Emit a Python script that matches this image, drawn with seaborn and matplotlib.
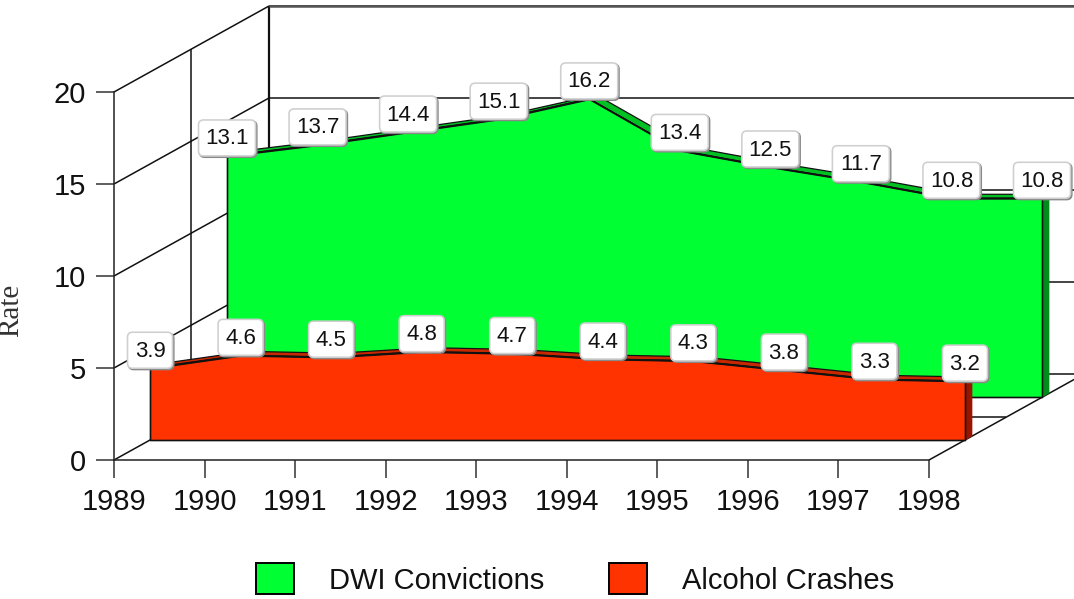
import matplotlib
matplotlib.use("Agg")
import matplotlib.pyplot as plt
import seaborn as sns
import pandas as pd
from matplotlib.patches import FancyBboxPatch, Patch
from matplotlib.transforms import Affine2D, IdentityTransform

years = ["1989", "1990", "1991", "1992", "1993", "1994", "1995", "1996", "1997", "1998"]
dwi_convictions = [13.1, 13.7, 14.4, 15.1, 16.2, 13.4, 12.5, 11.7, 10.8, 10.8]
alcohol_crashes = [3.9, 4.6, 4.5, 4.8, 4.7, 4.4, 4.3, 3.8, 3.3, 3.2]
y_ticks = [0, 5, 10, 15, 20]

GREEN, GREEN_TOP, GREEN_SIDE = "#00FF33", "#00C024", "#008C1A"
RED, RED_TOP, RED_SIDE = "#FF3300", "#C72800", "#991500"
LINE = "#111111"

W, H = 1074, 599
sns.set_theme(style="white")
plt.rcParams["font.family"] = ["Liberation Sans", "DejaVu Sans"]

fig = plt.figure(figsize=(W / 100, H / 100), dpi=100, facecolor="white")
ax = fig.add_axes([114 / W, (H - 460) / H, (929 - 114) / W, 368 / H], facecolor="none")
n = len(years)
xs = list(range(n))
ax.set_xlim(0, n - 1)
ax.set_ylim(0, 20)


def shift(dx, dy):
    return ax.transData + Affine2D().translate(dx, dy)


# Walls and floor of the pseudo-3D box
BACK = (155, 86)
MID = (77, 43)
wall = dict(color=LINE, lw=1.1, clip_on=False, zorder=1, solid_capstyle="butt")
back_t, mid_t = shift(*BACK), shift(*MID)
base_t = ax.transData
for v in y_ticks:
    p0 = base_t.transform((0, v))
    ax.plot([p0[0], p0[0] + BACK[0]], [p0[1], p0[1] + BACK[1]], transform=IdentityTransform(), **wall)
    ax.plot([0, n - 1], [v, v], transform=back_t, **wall)
ax.plot([0, 0], [0, 20], transform=mid_t, **wall)
ax.plot([0, 0], [0, 20], transform=back_t, **{**wall, "lw": 1.6})
ax.plot([0, n - 1], [20, 20], transform=back_t, **{**wall, "lw": 1.8, "color": "#555555"})
ax.plot([0, n - 1], [0, 0], transform=mid_t, **wall)
p1 = base_t.transform((n - 1, 0))
ax.plot([p1[0], p1[0] + BACK[0]], [p1[1], p1[1] + BACK[1]], transform=IdentityTransform(), **wall)


def ribbon(values, offset, face, top, side, z):
    dx, dy = offset
    front = shift(dx, dy)
    rear = shift(dx + 7, dy + 4)
    # top surface of the area
    p_front = [front.transform((x, v)) for x, v in zip(xs, values)]
    p_rear = [rear.transform((x, v)) for x, v in zip(xs, values)]
    poly = p_front + p_rear[::-1]
    ax.fill([p[0] for p in poly], [p[1] for p in poly], facecolor=top, edgecolor=LINE, lw=0.9,
            transform=IdentityTransform(), clip_on=False, zorder=z)
    # right-hand side of the area
    e = front.transform((xs[-1], values[-1]))
    b = front.transform((xs[-1], 0))
    sx = [e[0], e[0] + 7, b[0] + 7, b[0]]
    sy = [e[1], e[1] + 4, b[1] + 4, b[1]]
    ax.fill(sx, sy, facecolor=side, edgecolor=side, lw=0.5, transform=IdentityTransform(),
            clip_on=False, zorder=z)
    # front face
    ax.fill_between(xs, values, 0, facecolor=face, edgecolor=LINE, lw=1.2, transform=front,
                    clip_on=False, zorder=z + 0.1)
    df = pd.DataFrame({"i": xs, "v": values})
    sns.lineplot(data=df, x="i", y="v", ax=ax, color=LINE, lw=1.2, transform=front,
                 clip_on=False, zorder=z + 0.2, errorbar=None, legend=False)


GREEN_OFFSET = (113, 63)
RED_OFFSET = (36, 20)
ribbon(dwi_convictions, GREEN_OFFSET, GREEN, GREEN_TOP, GREEN_SIDE, 3)
ribbon(alcohol_crashes, RED_OFFSET, RED, RED_TOP, RED_SIDE, 4)


def tag(x, v, offset, z):
    px, py = shift(*offset).transform((x, v))
    label = f"{v:.1f}"
    w = 57 if len(label) == 4 else 45
    h = 36
    left, bottom = px - w / 2, py
    for off, col, lw, fc, zz in [((1.2, -1.2), "#8a8a8a", 1.8, "#8a8a8a", 0),
                                 ((0, 0), "#cfcfcf", 1.6, "white", 0.01)]:
        fig.add_artist(FancyBboxPatch((left + off[0] + 3, bottom + off[1] + 3), w - 6, h - 6,
                                      boxstyle="round,pad=3,rounding_size=5", facecolor=fc,
                                      edgecolor=col, lw=lw * 0.72, transform=IdentityTransform(),
                                      zorder=z + zz))
    t = fig.text(px, py + h / 2 - 1, label, ha="center", va="center", fontsize=16, color="#111111",
                 transform=IdentityTransform(), zorder=z + 0.02)
    return t


for i, v in enumerate(dwi_convictions):
    tag(i, v, GREEN_OFFSET, 10)
for i, v in enumerate(alcohol_crashes):
    tag(i, v, RED_OFFSET, 11)

# Axes
sns.despine(ax=ax, top=True, right=True)
for s in ("left", "bottom"):
    ax.spines[s].set_color("#222222")
    ax.spines[s].set_linewidth(1.1)
ax.set_xticks(xs, years)
ax.set_yticks(y_ticks)
ax.tick_params(axis="both", which="major", direction="out", length=13, width=1.1, color="#333333",
               labelsize=21, labelcolor="#111111", bottom=True, left=True)
ax.tick_params(axis="x", pad=7)
ax.tick_params(axis="y", pad=7)
ax.set_xlabel("")
ax.set_ylabel("Rate", fontsize=21, family="Liberation Serif", color="#333333")
ax.yaxis.set_label_coords((24 - 114) / (929 - 114), (460 - 310) / 368)

handles = [Patch(facecolor=GREEN, edgecolor="black", lw=1.4, label="DWI Convictions"),
           Patch(facecolor=RED, edgecolor="black", lw=1.4, label="Alcohol Crashes")]
fig.legend(handles=handles, ncol=2, frameon=False, fontsize=21, handlelength=1.3, handleheight=1.25,
           handletextpad=1.2, columnspacing=2.2, loc="center", bbox_to_anchor=(575 / W, (H - 579) / H),
           borderpad=0, borderaxespad=0, labelcolor="#111111")

fig.savefig("out.png", dpi=100, facecolor="white")
